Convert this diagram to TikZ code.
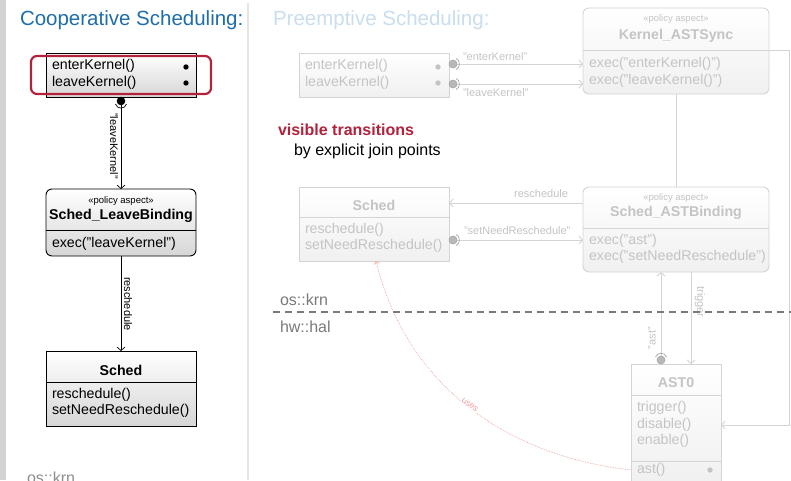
\documentclass[tikz,border=0pt]{standalone}
\usepackage{fontspec}
\setmainfont{Liberation Sans}
\usetikzlibrary{arrows.meta}
\definecolor{titleblue}{HTML}{1F6EAA}
\definecolor{ltblue}{HTML}{C9DEEE}
\definecolor{jpred}{HTML}{B3213B}
\definecolor{boxgray}{HTML}{D6D6D6}
\definecolor{fadetext}{HTML}{C4C4C4}
\definecolor{fadeline}{HTML}{D4D4D4}
\definecolor{fadefill}{HTML}{F0F0F0}
\definecolor{fadeball}{HTML}{B8B8B8}
\definecolor{fadeballdraw}{HTML}{A6A6A6}
\definecolor{layergray}{HTML}{7A7A7A}
\definecolor{usespink}{HTML}{F2A0A0}
\definecolor{stripgray}{HTML}{D3D3D3}
\definecolor{sepgray}{HTML}{E4E4E4}
\begin{document}
\begin{tikzpicture}[x=1pt,y=-1pt,
  every node/.style={inner sep=0pt,outer sep=0pt},
  ftitle/.style={font=\fontsize{20.5}{24}\selectfont,anchor=west},
  fbig/.style={font=\fontsize{16}{19}\selectfont,anchor=west},
  mtext/.style={font=\fontsize{14.2}{16}\selectfont,anchor=west},
  bname/.style={font=\bfseries\fontsize{14.2}{16}\selectfont},
  stereo/.style={font=\fontsize{9.5}{11}\selectfont},
  clabel/.style={font=\fontsize{11}{13}\selectfont},
  ubox/.style={draw=black,line width=0.9pt,top color=white,bottom color=boxgray},
  fbox/.style={draw=fadeline,line width=0.9pt,top color=white,bottom color=fadefill},
  conn/.style={draw=black,line width=0.7pt,-{Straight Barb[length=3.5pt,width=8pt]}},
  fconn/.style={draw=fadeline,line width=0.9pt,-{Straight Barb[length=3.5pt,width=8pt]}},
  fline/.style={draw=fadeline,line width=0.9pt},
  fball/.style={fill=fadeball,draw=fadeballdraw,line width=0.6pt},
]
\useasboundingbox (0,0) rectangle (791,480);
\fill[white] (0,0) rectangle (791,480);
\fill[stripgray] (0,0) rectangle (6,480);
\draw[sepgray,line width=1.5pt] (248,3) -- (248,480);

% ---------------- left panel ----------------
\node[ftitle,text=titleblue] (t1) at (20,20) {Cooperative Scheduling:};

\node[ubox,minimum width=150pt,minimum height=44pt] (b1) at (121,75) {};
\node[mtext] (b1a) at (52,66) {enterKernel()};
\node[mtext] (b1b) at (52,83) {leaveKernel()};
\fill (186,67) circle (2.7pt);
\fill (186,83) circle (2.7pt);
\node[draw=jpred,line width=2.2pt,rounded corners=6pt,minimum width=180pt,minimum height=38pt] (hl) at (121,75) {};

\node[ubox,rounded corners=6pt,minimum width=150pt,minimum height=67pt] (b2) at (121,222.5) {};
\node[stereo] (b2s) at (121,201) {«policy aspect»};
\node[bname] (b2n) at (121,216) {Sched\_LeaveBinding};
\draw[line width=0.9pt] (46,230) -- (196,230);
\node[mtext] (b2a) at (52,244) {exec("leaveKernel")};

\node[ubox,minimum width=150pt,minimum height=75pt] (b3) at (121,388.5) {};
\node[bname] (b3n) at (121,370) {Sched};
\draw[line width=0.9pt] (46,382) -- (196,382);
\node[mtext] (b3a) at (52,395) {reschedule()};
\node[mtext] (b3b) at (52,411) {setNeedReschedule()};

\coordinate (lk) at (121,101);
\draw[conn] (lk) -- (b2.north);
\fill (lk) circle (4.3pt);
\draw[line width=0.7pt] (115.5,104) .. controls (117,109.5) and (125,109.5) .. (126.5,104);
\node[clabel,rotate=-90] (l1) at (114,146) {"leaveKernel"};

\draw[conn] (b2.south) -- (b3.north);
\node[clabel,rotate=-90] (l2) at (128,304) {reschedule};

\node[fbig,anchor=base west,text=layergray!85] (osl) at (27,483) {os::krn};

% ---------------- right panel ----------------
\node[ftitle,text=ltblue] (t2) at (273,20) {Preemptive Scheduling:};

\node[fbox,minimum width=150pt,minimum height=44pt] (p1) at (374,75) {};
\node[mtext,text=fadetext] (p1a) at (305,66) {enterKernel()};
\node[mtext,text=fadetext] (p1b) at (305,83) {leaveKernel()};
\fill[fadetext] (438,67) circle (2.7pt);
\fill[fadetext] (438,83) circle (2.7pt);

\node[fbox,rounded corners=6pt,minimum width=186pt,minimum height=86pt] (k) at (676,51) {};
\node[stereo,text=fadetext] (ks) at (676,19) {«policy aspect»};
\node[bname,text=fadetext] (kn) at (676,36) {Kernel\_ASTSync};
\draw[fline] (583,50) -- (769,50);
\node[mtext,text=fadetext] (ka) at (589,64) {exec("enterKernel()")};
\node[mtext,text=fadetext] (kb) at (589,81) {exec("leaveKernel()")};

\coordinate (pe) at (453,64);
\coordinate (pl) at (453,84);
\draw[fconn] (pe) -- (pe -| k.west);
\draw[fconn] (pl) -- (pl -| k.west);
\fill[fball] (pe) circle (4pt);
\fill[fball] (pl) circle (4pt);
\draw[fadeballdraw,line width=0.7pt] (456,58.5) .. controls (460.5,60) and (460.5,68) .. (456,69.5);
\draw[fadeballdraw,line width=0.7pt] (456,78.5) .. controls (460.5,80) and (460.5,88) .. (456,89.5);
\node[clabel,text=fadetext,anchor=west] (le) at (463,57) {"enterKernel"};
\node[clabel,text=fadetext,anchor=west] (ll) at (463,93) {"leaveKernel"};

\node[fbig,font=\bfseries\fontsize{16}{19}\selectfont,text=jpred] (vt) at (278,130) {visible transitions};
\node[fbig] (vj) at (294,151) {by explicit join points};

\node[fbox,minimum width=150pt,minimum height=74pt] (ps) at (374,224) {};
\node[bname,text=fadetext] (psn) at (374,205) {Sched};
\draw[fline] (299,217) -- (449,217);
\node[mtext,text=fadetext] (psa) at (305,230) {reschedule()};
\node[mtext,text=fadetext] (psb) at (305,246) {setNeedReschedule()};

\node[fbox,rounded corners=6pt,minimum width=186pt,minimum height=85pt] (s) at (676,229.5) {};
\node[stereo,text=fadetext] (ss) at (676,198) {«policy aspect»};
\node[bname,text=fadetext] (sn) at (676,213) {Sched\_ASTBinding};
\draw[fline] (583,228) -- (769,228);
\node[mtext,text=fadetext] (sa) at (589,241) {exec("ast")};
\node[mtext,text=fadetext] (sb) at (589,257) {exec("setNeedReschedule")};

\draw[fline] (k.south) -- (s.north);

\coordinate (rsy) at (516,203);
\draw[fconn] (s.west |- rsy) -- (ps.east |- rsy);
\node[clabel,text=fadetext,anchor=east] (rl) at (568,194) {reschedule};

\coordinate (pn) at (453,240);
\draw[fconn] (pn) -- (pn -| s.west);
\fill[fball] (pn) circle (4pt);
\draw[fadeballdraw,line width=0.7pt] (456,234.5) .. controls (460.5,236) and (460.5,244) .. (456,245.5);
\node[clabel,text=fadetext,anchor=west] (ln) at (464,231) {"setNeedReschedule"};

% AST0
\node[fbox,minimum width=90pt,minimum height=122pt] (a) at (676,425) {};
\node[bname,text=fadetext] (an) at (676,383) {AST0};
\draw[fline] (631,395) -- (721,395);
\draw[fline] (631,461) -- (721,461);
\node[mtext,text=fadetext] (aa) at (637,408) {trigger()};
\node[mtext,text=fadetext] (ad) at (637,425) {disable()};
\node[mtext,text=fadetext] (ae) at (637,441) {enable()};
\node[mtext,text=fadetext] (af) at (637,470) {ast()};
\fill[fadetext] (710,470) circle (2.7pt);

\coordinate (ab) at (661,360);
\draw[fconn] (ab) -- (ab |- s.south);
\fill[fball] (ab) circle (4pt);
\draw[fadeballdraw,line width=0.7pt] (655.5,357) .. controls (657,352) and (665,352) .. (666.5,357);
\node[clabel,text=fadetext,rotate=90] (la) at (652,338) {"ast"};

\coordinate (tg) at (691,300);
\draw[fconn] (s.south -| tg) -- (a.north -| tg);
\node[clabel,text=fadetext,rotate=-90] (lt) at (700,302) {trigger};

\coordinate (rt) at (789,50);
\draw[fconn] (k.east |- rt) -- (rt) |- (a.east |- ad);

% uses
\draw[usespink,densely dotted,line width=0.7pt,-{Straight Barb[length=2.5pt,width=5pt]}] (a.west |- af) .. controls (500,455) and (405,380) .. ([xshift=2pt]ps.south);
\node[font=\fontsize{9}{10}\selectfont,text=usespink,rotate=-38,fill=white,inner sep=0.5pt] (lu) at (470,405) {uses};

% layers
\draw[layergray,line width=2pt,dash pattern=on 7pt off 5pt] (273,312) -- (791,312);
\node[fbig,text=layergray] (osr) at (280,300) {os::krn};
\node[fbig,text=layergray] (hwr) at (280,327) {hw::hal};
\end{tikzpicture}
\end{document}
